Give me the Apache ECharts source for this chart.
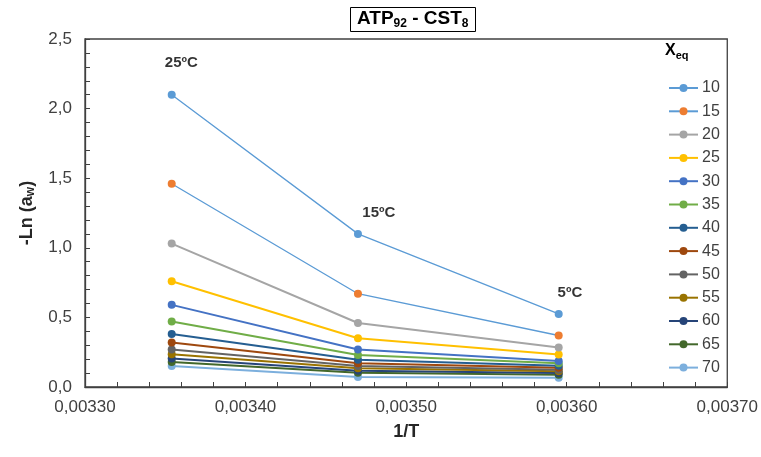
<!DOCTYPE html>
<html>
<head>
<meta charset="utf-8">
<script src="https://cdn.jsdelivr.net/npm/echarts@6/dist/echarts.min.js"></script>
<style>
  html, body { margin: 0; padding: 0; background: #fff; }
  #chart { width: 761px; height: 457px; }
</style>
</head>
<body>
<div id="chart"></div>
<script>
// 1/T for 25 ºC, 15 ºC and 5 ºC
const invT = [0.003354, 0.003470, 0.003595];

// moisture levels (legend) and -Ln(aw) at each temperature
const xeq = ['10', '15', '20', '25', '30', '35', '40', '45', '50', '55', '60', '65', '70'];
const v10 = [2.10, 1.10, 0.525];
const v15 = [1.46, 0.67, 0.370];
const v20 = [1.03, 0.46, 0.283];
const v25 = [0.76, 0.35, 0.233];
const v30 = [0.59, 0.27, 0.187];
const v35 = [0.47, 0.23, 0.170];
const v40 = [0.38, 0.195, 0.153];
const v45 = [0.32, 0.17, 0.139];
const v50 = [0.27, 0.15, 0.124];
const v55 = [0.235, 0.134, 0.113];
const v60 = [0.205, 0.117, 0.100];
const v65 = [0.18, 0.103, 0.088];
const v70 = [0.15, 0.072, 0.067];
const values = [v10, v15, v20, v25, v30, v35, v40, v45, v50, v55, v60, v65, v70];

const markerColors = ['#5B9BD5', '#ED7D31', '#A5A5A5', '#FFC000', '#4472C4', '#70AD47',
  '#255E91', '#9E480E', '#636363', '#997300', '#264478', '#43682B', '#7CAFDD'];
const lineColors = ['#5B9BD5', '#5B9BD5', '#A5A5A5', '#FFC000', '#4472C4', '#70AD47',
  '#255E91', '#9E480E', '#636363', '#997300', '#264478', '#43682B', '#7CAFDD'];

// temperature labels placed in data coordinates
const tempLabels = ['25ºC', '15ºC', '5ºC'];
const tempPos = [[0.003360, 2.33], [0.003483, 1.25], [0.003602, 0.675]];

const FONT = '"Liberation Sans", Arial, sans-serif';
const chart = echarts.init(document.getElementById('chart'));

const series = xeq.map((name, i) => ({
  name: name,
  type: 'line',
  data: invT.map((x, j) => [x, values[i][j]]),
  symbol: 'circle',
  symbolSize: 8,
  itemStyle: { color: markerColors[i] },
  lineStyle: { color: lineColors[i], width: i < 2 ? 1.3 : 2 },
  z: 20 - i,
  animation: false
}));

series.push({
  name: 'temps',
  type: 'scatter',
  data: tempPos,
  symbolSize: 0,
  silent: true,
  label: {
    show: true,
    formatter: p => tempLabels[p.dataIndex],
    fontFamily: FONT,
    fontWeight: 'bold',
    fontSize: 15,
    color: '#000',
    position: 'inside'
  },
  animation: false
});

chart.setOption({
  animation: false,
  title: [{
    text: '{a|ATP}{s|92}{a| - CST}{s|8}',
    left: 350,
    top: 6,
    padding: [2, 7, 2, 7],
    borderColor: '#000',
    borderWidth: 1,
    textStyle: {
      rich: {
        a: { fontFamily: FONT, fontWeight: 'bold', fontSize: 19, color: '#000', lineHeight: 22 },
        s: { fontFamily: FONT, fontWeight: 'bold', fontSize: 12, color: '#000', lineHeight: 22, verticalAlign: 'bottom', padding: [7, 0, 0, 0] }
      }
    }
  }, {
    text: '{a|X}{s|eq}',
    left: 665,
    top: 41,
    padding: 0,
    textStyle: {
      rich: {
        a: { fontFamily: FONT, fontWeight: 'bold', fontSize: 16, color: '#000', lineHeight: 20 },
        s: { fontFamily: FONT, fontWeight: 'bold', fontSize: 11, color: '#000', lineHeight: 20, verticalAlign: 'bottom', padding: [6, 0, 0, 0] }
      }
    }
  }],
  grid: {
    left: 85, top: 39, right: 32, bottom: 70,
    show: true, borderColor: '#404040', borderWidth: 1.3
  },
  legend: {
    data: xeq,
    orient: 'vertical',
    left: 663,
    top: 75,
    itemWidth: 29,
    itemHeight: 10,
    itemGap: 7.3,
    textStyle: { fontFamily: FONT, fontSize: 16, color: '#404040', padding: [0, 0, 0, -1] }
  },
  xAxis: {
    type: 'value',
    min: 0.0033,
    max: 0.0037,
    interval: 0.0001,
    name: '1/T',
    nameLocation: 'middle',
    nameGap: 36,
    nameTextStyle: { fontFamily: FONT, fontWeight: 'bold', fontSize: 18, color: '#262626' },
    axisLine: { lineStyle: { color: '#404040', width: 1.3 } },
    axisTick: { inside: true, length: 5, lineStyle: { color: '#404040' } },
    minorTick: { show: true, splitNumber: 5, length: 5, lineStyle: { color: '#404040' } },
    splitLine: { show: false },
    axisLabel: {
      margin: 12,
      fontFamily: FONT, fontSize: 17, color: '#404040',
      formatter: v => v.toFixed(5).replace('.', ',')
    }
  },
  yAxis: {
    type: 'value',
    min: 0,
    max: 2.5,
    interval: 0.5,
    name: '-Ln (a{s|w})',
    nameLocation: 'middle',
    nameGap: 48,
    nameTextStyle: {
      fontFamily: FONT, fontWeight: 'bold', fontSize: 18, color: '#262626',
      rich: { s: { fontFamily: FONT, fontWeight: 'bold', fontSize: 12, color: '#262626', verticalAlign: 'bottom', padding: [7, 0, 0, 0] } }
    },
    axisLine: { lineStyle: { color: '#404040', width: 1.3 } },
    axisTick: { inside: true, length: 5, lineStyle: { color: '#404040' } },
    minorTick: { show: true, splitNumber: 5, length: 5, lineStyle: { color: '#404040' } },
    splitLine: { show: false },
    axisLabel: {
      margin: 13,
      fontFamily: FONT, fontSize: 17, color: '#404040',
      formatter: v => v.toFixed(1).replace('.', ',')
    }
  },
  series: series
});
</script>
</body>
</html>
